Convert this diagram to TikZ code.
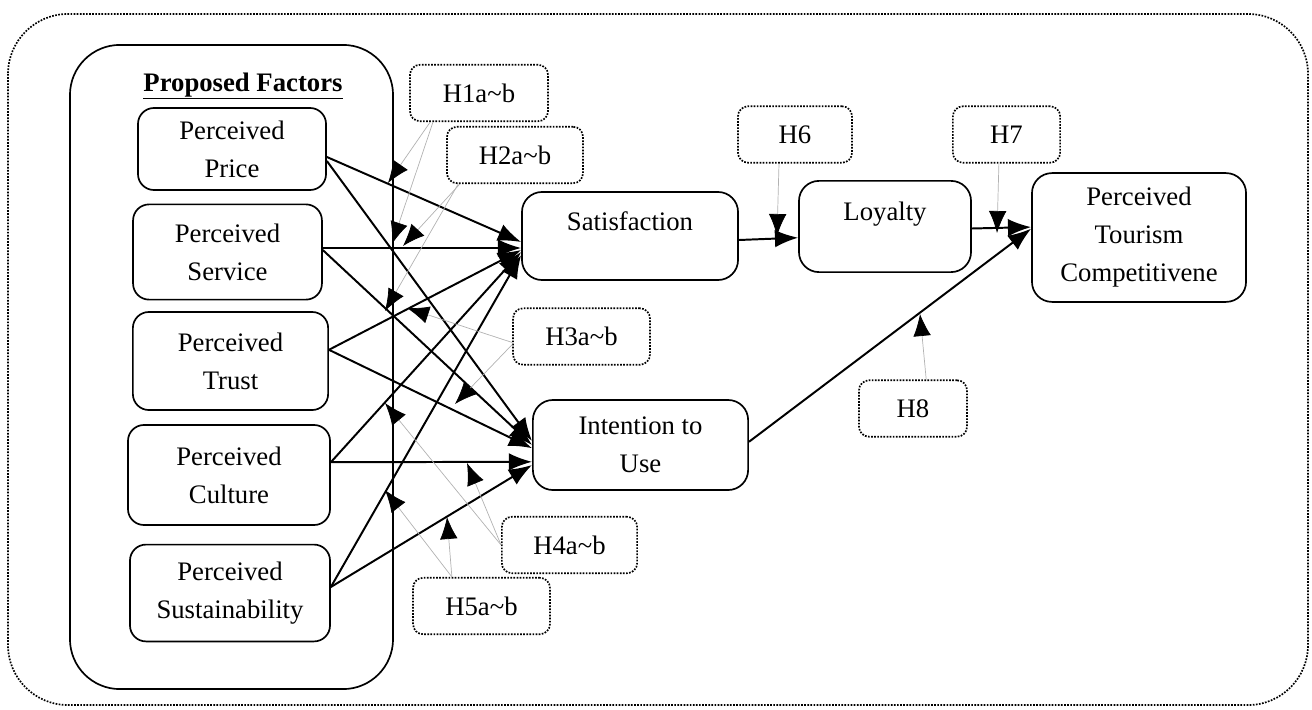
\documentclass[tikz,border=0pt]{standalone}
\usepackage{fontspec}
\setmainfont{Liberation Serif}
\usetikzlibrary{arrows.meta}
\begin{document}
\begin{tikzpicture}[x=0.025cm,y=-0.025cm,
  every node/.style={font=\fontsize{19}{27}\selectfont},
  factor/.style={draw,line width=1.2pt,rounded corners=0.4cm,align=center,inner sep=0pt},
  result/.style={factor,rounded corners=0.5cm,text height=0.45cm,text depth=0.725cm},
  hyp/.style={draw,line width=1.2pt,densely dotted,rounded corners=0.25cm,inner sep=0pt,minimum height=1.41cm},
  link/.style={-{Latex[length=0.58cm,width=0.44cm]},line width=1.4pt},
  hint/.style={-{Latex[length=0.55cm,width=0.44cm,color=black]},draw=gray!60,line width=0.5pt}]
  \useasboundingbox (0,0) rectangle (1312,709);
  \draw[densely dotted,line width=1.2pt,rounded corners=1.5cm] (8,14) rectangle (1308,705);
  \node[draw,line width=1.2pt,rounded corners=1.25cm,minimum width=8.075cm,minimum height=16.1cm] (pfbox) at (231.5,367) {};
  \node[] (pftitle) at (243,86) {\textbf{\underline{Proposed Factors}}};
  % factors
  \node[factor,minimum width=4.7cm,minimum height=2.05cm] (price) at (232,149) {Perceived\\Price};
  \node[factor,minimum width=4.72cm,minimum height=2.38cm] (service) at (227.5,252) {Perceived\\Service};
  \node[factor,minimum width=4.88cm,minimum height=2.45cm] (trust) at (230.5,361) {Perceived\\Trust};
  \node[factor,minimum width=5.05cm,minimum height=2.5cm] (culture) at (229,475) {Perceived\\Culture};
  \node[factor,minimum width=5cm,minimum height=2.42cm] (sust) at (230,593) {Perceived\\Sustainability};
  % outcomes
  \node[result,minimum width=5.4cm,minimum height=2.2cm] (sat) at (630,236) {Satisfaction};
  \node[result,minimum width=4.3cm,minimum height=2.28cm] (loyal) at (885,226.5) {Loyalty};
  \node[factor,rounded corners=0.5cm,minimum width=5.35cm,minimum height=3.22cm] (ptc) at (1139,237.5) {Perceived\\Tourism\\Competitivene};
  \node[factor,rounded corners=0.5cm,minimum width=5.38cm,minimum height=2.25cm] (intent) at (640.5,445) {Intention to\\Use};
  % hypotheses
  \node[hyp,minimum width=3.45cm] (h1) at (479,93) {H1a\textasciitilde b};
  \node[hyp,minimum width=3.4cm] (h2) at (515,155) {H2a\textasciitilde b};
  \node[hyp,minimum width=3.42cm] (h3) at (581.5,336.5) {H3a\textasciitilde b};
  \node[hyp,minimum width=3.38cm] (h4) at (569.5,545) {H4a\textasciitilde b};
  \node[hyp,minimum width=3.42cm] (h5) at (481.5,606) {H5a\textasciitilde b};
  \node[hyp,minimum width=2.85cm] (h6) at (795,134.5) {H6};
  \node[hyp,minimum width=2.68cm] (h7) at (1006.5,134.5) {H7};
  \node[hyp,minimum width=2.7cm] (h8) at (913,408.5) {H8};
  % paths
  \draw[link] ([yshift=-0.2cm]price.east) -- ([yshift=-0.15cm]sat.west);
  \draw[link] ([yshift=-0.3cm]price.east) -- ([yshift=0.1cm]intent.west);
  \draw[link] ([yshift=0.1cm]service.east) -- ([yshift=-0.3cm]sat.west);
  \draw[link] ([yshift=0.05cm]service.east) -- (intent.west);
  \draw[link] ([yshift=0.28cm]trust.east) -- ([yshift=-0.35cm]sat.west);
  \draw[link] ([yshift=0.28cm]trust.east) -- ([yshift=-0.08cm]intent.west);
  \draw[link] ([yshift=0.32cm]culture.east) -- ([yshift=-0.4cm]sat.west);
  \draw[link] ([yshift=0.32cm]culture.east) -- ([yshift=-0.42cm]intent.west);
  \draw[link] ([yshift=0.15cm]sust.east) -- ([yshift=-0.48cm]sat.west);
  \draw[link] ([yshift=0.15cm]sust.east) -- ([yshift=-0.5cm]intent.west);
  \draw[link] ([yshift=-0.1cm]sat.east) -- ([yshift=-0.28cm]loyal.west);
  \draw[link] ([yshift=-0.05cm]loyal.east) -- ([yshift=0.26cm]ptc.west);
  \draw[link] ([yshift=0.08cm]intent.east) -- ([yshift=0.22cm]ptc.west);
  % hypothesis pointers
  \coordinate (t1a) at (388,183);
  \coordinate (t1b) at (392,244);
  \coordinate (t2a) at (403,246);
  \coordinate (t2b) at (385,311);
  \coordinate (t3a) at (407,308);
  \coordinate (t3b) at (455,404);
  \coordinate (t4a) at (385,403);
  \coordinate (t4b) at (467,463);
  \coordinate (t5a) at (447,517);
  \coordinate (t5b) at (385,490);
  \coordinate (t6) at (777,236);
  \coordinate (t7) at (997,233);
  \coordinate (t8) at (920,314);
  \draw[hint] ([xshift=-1.22cm]h1.south) -- (t1a);
  \draw[hint] ([xshift=-1.15cm]h1.south) -- (t1b);
  \draw[hint] ([xshift=-1.38cm]h2.south) -- (t2a);
  \draw[hint] ([xshift=-1.42cm]h2.south) -- (t2b);
  \draw[hint] ([yshift=-0.15cm]h3.west) -- (t3a);
  \draw[hint] ([yshift=-0.2cm]h3.west) -- (t3b);
  \draw[hint] (h4.west) -- (t4a);
  \draw[hint] (h4.west) -- (t4b);
  \draw[hint] ([xshift=-0.74cm]h5.north) -- (t5a);
  \draw[hint] ([xshift=-0.74cm]h5.north) -- (t5b);
  \draw[hint] ([xshift=-0.4cm]h6.south) -- (t6);
  \draw[hint] ([xshift=-0.19cm]h7.south) -- (t7);
  \draw[hint] ([xshift=0.33cm]h8.north) -- (t8);
\end{tikzpicture}
\end{document}
